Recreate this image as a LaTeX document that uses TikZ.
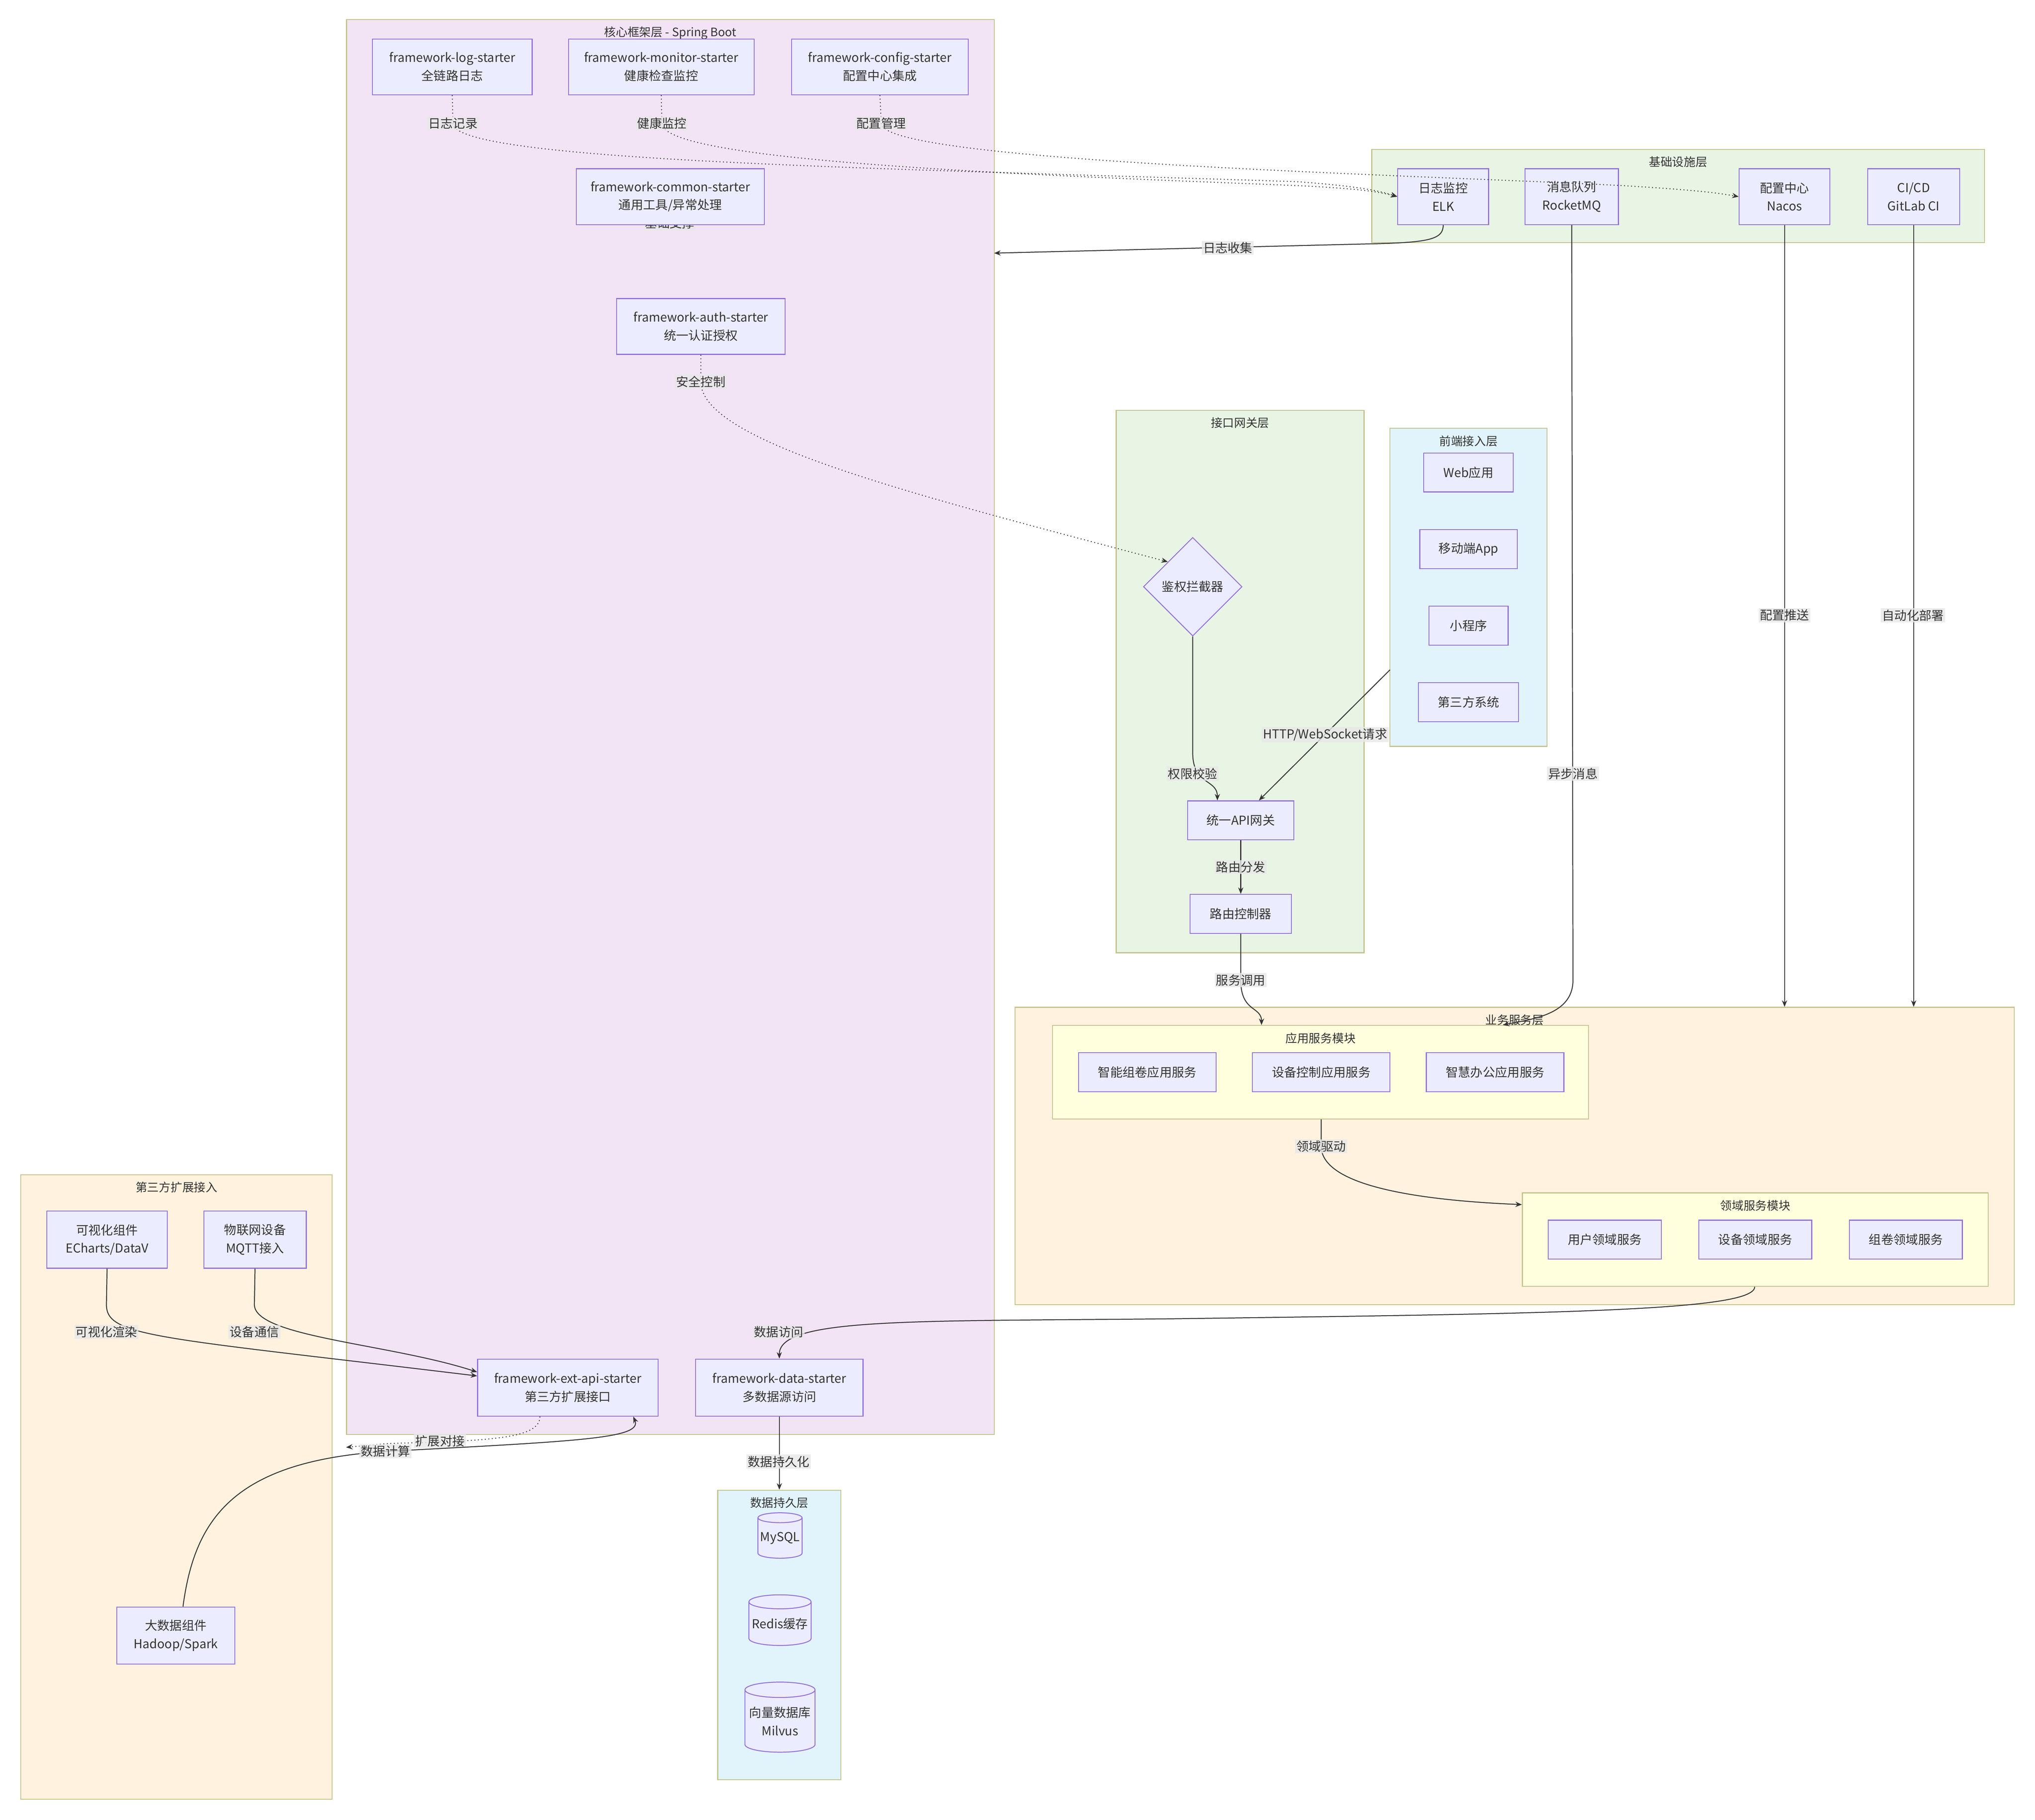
\documentclass[tikz,border=0pt]{standalone}
\usepackage{fontspec}
\setmainfont{Noto Sans CJK SC}
\usetikzlibrary{shapes.geometric,arrows.meta}
\definecolor{ndb}{HTML}{9370DB}\definecolor{ndf}{HTML}{ECECFF}
\definecolor{clb}{HTML}{C3C38A}
\definecolor{pinkf}{HTML}{F2E4F4}\definecolor{greenf}{HTML}{E8F4E4}
\definecolor{bluef}{HTML}{E1F4FC}\definecolor{orf}{HTML}{FFF2DE}\definecolor{yef}{HTML}{FFFFDE}
\definecolor{ed}{HTML}{333333}\definecolor{lbf}{HTML}{E8E8E8}
\newcommand\nd[6]{\node[nd,minimum width={(#4-#2)*1pt},minimum height={(#5-#3)*1pt}] (#1) at ({(#2+#4)/2},{(#3+#5)/2}) {#6};}
\newcommand\cl[7]{\node[cl,fill=#7,minimum width={(#4-#2)*1pt},minimum height={(#5-#3)*1pt}] (#1) at ({(#2+#4)/2},{(#3+#5)/2}) {};
\node[anchor=north,font=\fontsize{9}{11}\selectfont,text=ed] at ({(#2+#4)/2},#3+2) {#6};}
\begin{document}
\begin{tikzpicture}[x=1pt,y=-1pt,
 nd/.style={draw=ndb,fill=ndf,inner sep=1pt,align=center,font=\fontsize{9.5}{14}\selectfont,text=ed,line width=0.7pt},
 cl/.style={draw=clb,line width=0.7pt,inner sep=0},
 e/.style={draw=ed,line width=0.7pt,-{Stealth[length=5pt,width=4pt]}},
 d/.style={e,dotted},
 lb/.style={fill=lbf,fill opacity=0.8,text opacity=1,inner sep=1pt,font=\fontsize{9.5}{11}\selectfont,text=ed}]
\useasboundingbox (0,0) rectangle (1568,1402);
\fill[white] (0,0) rectangle (1568,1402);
% clusters
\cl{core}{267}{15}{766}{1105}{核心框架层 - Spring Boot}{pinkf}
\cl{infra}{1057}{115}{1529}{187}{基础设施层}{greenf}
\cl{gw}{860}{316}{1051}{734}{接口网关层}{greenf}
\cl{front}{1071}{330}{1192}{575}{前端接入层}{bluef}
\cl{biz}{782}{776}{1552}{1005}{业务服务层}{orf}
\cl{appm}{811}{790}{1224}{862}{应用服务模块}{yef}
\cl{domm}{1173}{919}{1532}{991}{领域服务模块}{yef}
\cl{third}{16}{905}{256}{1386}{第三方扩展接入}{orf}
\cl{pers}{553}{1148}{648}{1371}{数据持久层}{bluef}
% nodes
\node[lb] at (516,172) {基础支撑};
\nd{log}{287}{30}{410}{73}{framework-log-starter\\全链路日志}
\nd{mon}{438}{30}{581}{73}{framework-monitor-starter\\健康检查监控}
\nd{cfg}{610}{30}{746}{73}{framework-config-starter\\配置中心集成}
\nd{com}{444}{130}{589}{173}{framework-common-starter\\通用工具/异常处理}
\nd{auth}{475}{230}{605}{273}{framework-auth-starter\\统一认证授权}
\nd{ext}{368}{1047}{507}{1091}{framework-ext-api-starter\\第三方扩展接口}
\nd{data}{536}{1047}{665}{1091}{framework-data-starter\\多数据源访问}
\nd{elk}{1077}{130}{1147}{173}{日志监控\\ELK}
\nd{mq}{1175}{130}{1247}{173}{消息队列\\RocketMQ}
\nd{nacos}{1340}{130}{1410}{173}{配置中心\\Nacos}
\nd{ci}{1439}{130}{1510}{173}{CI/CD\\GitLab CI}
\node[nd,diamond,aspect=1,minimum width=76pt,minimum height=76pt,inner sep=0] (dia) at (919,452) {鉴权拦截器};
\nd{api}{915}{617}{997}{647}{统一API网关}
\nd{rt}{917}{689}{995}{719}{路由控制器}
\nd{web}{1097}{349}{1166}{379}{Web应用}
\nd{mob}{1094}{408}{1169}{438}{移动端App}
\nd{mini}{1101}{467}{1162}{497}{小程序}
\nd{tp}{1093}{526}{1170}{556}{第三方系统}
\nd{a1}{831}{811}{937}{841}{智能组卷应用服务}
\nd{a2}{965}{811}{1071}{841}{设备控制应用服务}
\nd{a3}{1099}{811}{1205}{841}{智慧办公应用服务}
\nd{d1}{1193}{940}{1280}{970}{用户领域服务}
\nd{d2}{1309}{940}{1396}{970}{设备领域服务}
\nd{d3}{1425}{940}{1512}{970}{组卷领域服务}
\nd{vis}{36}{933}{129}{977}{可视化组件\\ECharts/DataV}
\nd{iot}{157}{933}{236}{977}{物联网设备\\MQTT接入}
\nd{big}{90}{1238}{181}{1282}{大数据组件\\Hadoop/Spark}
\node[nd,cylinder,shape border rotate=90,aspect=0.25,minimum width=34pt,minimum height=35pt,inner sep=0] (mysql) at (601,1185) {MySQL};
\node[nd,cylinder,shape border rotate=90,aspect=0.25,minimum width=48pt,minimum height=39pt,inner sep=0] (redis) at (601,1251) {Redis缓存};
\node[nd,cylinder,shape border rotate=90,aspect=0.25,minimum width=54pt,minimum height=54pt,inner sep=0] (milvus) at (601,1326) {向量数据库\\Milvus};
% edges
\draw[d] (log.south) -- (349,95) .. controls (349,125) and (700,130) .. (1000,140) .. controls (1040,143) and (1060,146) .. (elk.west);
\node[lb] at (349,95) {日志记录};
\draw[d] (mon.south) -- (510,95) .. controls (510,125) and (800,135) .. (1000,143) .. controls (1040,145) and (1060,147) .. (elk.west);
\node[lb] at (510,95) {健康监控};
\draw[d] (cfg.south) -- (679,95) .. controls (679,125) and (1100,135) .. (1250,143) .. controls (1300,146) and (1320,148) .. (nacos.west);
\node[lb] at (679,95) {配置管理};
\draw[e] (elk.south) .. controls (1112,185) and (1100,187) .. (1050,188) -- (766,195);
\node[lb] at (946,191) {日志收集};
\draw[d] (auth.south) -- (540,294) .. controls (540,340) and (700,380) .. (dia.north west);
\node[lb] at (540,294) {安全控制};
\draw[e] (dia.south) -- (919,580) .. controls (919,605) and (938,600) .. (api.north west -| 938,617);
\node[lb] at (919,596) {权限校验};
\draw[e] (1071,516) -- (api.north east -| 970,617);
\node[lb] at (1021,566) {HTTP/WebSocket请求};
\draw[e] (api.south) -- (rt.north);
\node[lb] at (956,668) {路由分发};
\draw[e] (rt.south) -- (956,755) .. controls (956,780) and (972,775) .. (appm.north -| 972,790);
\node[lb] at (956,755) {服务调用};
\draw[e] (mq.south) -- (1212,755) .. controls (1212,782) and (1180,785) .. (appm.north -| 1158,790);
\node[lb] at (1212,596) {异步消息};
\draw[e] (nacos.south) -- (biz.north -| nacos.south);
\node[lb] at (1375,474) {配置推送};
\draw[e] (ci.south) -- (biz.north -| ci.south);
\node[lb] at (1474,474) {自动化部署};
\draw[e] (appm.south -| 1018,862) -- (1018,883) .. controls (1018,915) and (1100,925) .. (domm.west |- 1173,928);
\node[lb] at (1018,883) {领域驱动};
\draw[e] (domm.south -| 1352,991) .. controls (1352,1010) and (1200,1012) .. (900,1016) .. controls (700,1018) and (600,1015) .. (data.north);
\node[lb] at (600,1026) {数据访问};
\draw[e] (vis.south) -- (82,1005) .. controls (82,1030) and (120,1030) .. (ext.west |- 368,1060);
\node[lb] at (82,1026) {可视化渲染};
\draw[e] (iot.south) -- (196,1005) .. controls (196,1030) and (300,1035) .. (ext.west |- 368,1057);
\node[lb] at (196,1026) {设备通信};
\draw[d] (ext.south -| 416,1091) .. controls (416,1108) and (380,1110) .. (300,1112) -- (core.west |- 256,1115);
\node[lb] at (339,1110) {扩展对接};
\draw[e] (big.north -| 141,1238) .. controls (150,1170) and (180,1125) .. (300,1118) .. controls (450,1110) and (495,1108) .. (ext.south -| 488,1091);
\node[lb] at (297,1118) {数据计算};
\draw[e] (data.south) -- (pers.north);
\node[lb] at (600,1126) {数据持久化};
\end{tikzpicture}
\end{document}
